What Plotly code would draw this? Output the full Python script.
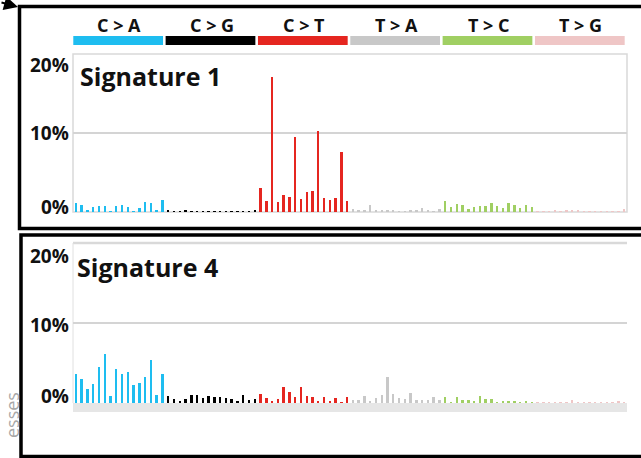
import plotly.graph_objects as go

# ---------------- data ----------------
substitutions = ["C>A", "C>G", "C>T", "T>A", "T>C", "T>G"]
header_labels = ["C > A", "C > G", "C > T", "T > A", "T > C", "T > G"]
group_colors = ["#1ebdf0", "#000000", "#e52620", "#c8c8c8", "#a0cf63", "#efc6c6"]
bases = ["A", "C", "G", "T"]
categories = [f"{f}[{s}]{t}" for s in substitutions for f in bases for t in bases]

sig1_CA = [1.1, 0.95, 0.2, 0.65, 0.7, 0.8, 0.1, 0.75, 0.85, 0.6, 0.1, 0.5, 1.25, 1.2, 0.25, 1.55]
sig1_CG = [0.15, 0.1, 0.05, 0.15, 0.1, 0.1, 0.05, 0.1, 0.05, 0.05, 0.1, 0.05, 0.1, 0.1, 0.1, 0.25]
sig1_CT = [3.0, 1.4, 17.1, 1.25, 2.1, 1.9, 9.5, 1.7, 2.5, 2.7, 10.25, 1.75, 1.5, 1.8, 7.6, 1.35]
sig1_TA = [0.38, 0.2, 0.3, 0.85, 0.15, 0.15, 0.15, 0.2, 0.05, 0.05, 0.15, 0.2, 0.55, 0.2, 0.1, 0.4]
sig1_TC = [1.45, 0.65, 1.05, 0.95, 0.4, 0.6, 0.75, 0.7, 1.2, 0.75, 0.55, 1.1, 0.9, 0.5, 0.9, 0.65]
sig1_TG = [0.1, 0.1, 0.1, 0.3, 0.05, 0.15, 0.15, 0.25, 0.05, 0.05, 0.1, 0.05, 0.1, 0.05, 0.1, 0.4]

sig4_CA = [3.6, 3.0, 1.8, 2.4, 4.55, 6.1, 0.85, 4.25, 3.65, 3.9, 2.2, 2.5, 3.25, 5.35, 1.0, 3.6]
sig4_CG = [0.9, 0.45, 0.3, 0.55, 0.95, 0.95, 0.6, 0.9, 0.7, 0.8, 0.6, 0.55, 0.3, 0.95, 0.4, 0.55]
sig4_CT = [1.1, 0.67, 0.2, 0.5, 2.05, 1.4, 0.7, 1.95, 0.85, 0.75, 0.2, 0.75, 0.3, 0.6, 0.1, 0.7]
sig4_TA = [0.4, 0.35, 0.9, 0.2, 0.67, 1.05, 3.3, 1.1, 0.62, 0.45, 1.25, 0.38, 0.38, 0.38, 0.75, 0.4]
sig4_TC = [0.75, 0.12, 0.7, 0.42, 0.42, 0.17, 0.88, 0.5, 0.5, 0.12, 0.3, 0.2, 0.2, 0.12, 0.25, 0.12]
sig4_TG = [0.02, 0.02, 0.08, 0.02, 0.02, 0.05, 0.38, 0.1, 0.02, 0.02, 0.08, 0.02, 0.02, 0.02, 0.2, 0.05]

sig1 = sig1_CA + sig1_CG + sig1_CT + sig1_TA + sig1_TC + sig1_TG
sig4 = sig4_CA + sig4_CG + sig4_CT + sig4_TA + sig4_TC + sig4_TG
y_ticks = [0, 10, 20]
y_tick_text = ["0%", "10%", "20%"]

# ---------------- layout helpers ----------------
W, H = 641, 458
def px(x):
    return x / W
def py(y):
    return 1 - y / H

bar_colors = [group_colors[i // 16] for i in range(96)]
FONT = "Open Sans"

fig = go.Figure()
fig.add_trace(go.Bar(x=categories, y=sig1, marker=dict(color=bar_colors, line=dict(width=0)),
                     width=0.42, xaxis="x", yaxis="y", showlegend=False))
fig.add_trace(go.Bar(x=categories, y=sig4, marker=dict(color=bar_colors, line=dict(width=0)),
                     width=0.42, xaxis="x2", yaxis="y2", showlegend=False))

xdom = [px(73), px(627)]
common_x = dict(domain=xdom, range=[-0.5, 95.5], type="category", categoryorder="array",
                categoryarray=categories, showticklabels=False, showgrid=False,
                zeroline=False, showline=False, ticks="")
common_y = dict(range=[0, 20], tickvals=[10], showticklabels=False, showgrid=True,
                gridcolor="#d4d4d4", gridwidth=1.5, zeroline=False, showline=False, ticks="")

shapes = []
annotations = []

# panel frames (light grey)
shapes.append(dict(type="rect", xref="x domain", yref="y domain", x0=0, x1=1, y0=0, y1=1,
                   line=dict(color="#d9d9d9", width=1.5), layer="below"))
shapes.append(dict(type="line", xref="x2 domain", yref="y2 domain", x0=0, x1=1, y0=1, y1=1,
                   line=dict(color="#d9d9d9", width=2.5), layer="below"))
shapes.append(dict(type="line", xref="x2 domain", yref="y2 domain", x0=0, x1=0, y0=0, y1=1,
                   line=dict(color="#e0e0e0", width=1), layer="below"))
# grey band under bottom panel baseline
shapes.append(dict(type="rect", xref="paper", yref="paper", x0=px(73), x1=px(627),
                   y0=py(412), y1=py(403), fillcolor="#e6e6e6", line=dict(width=0), layer="below"))

# header colour strips and labels
for g, (lab, col) in enumerate(zip(header_labels, group_colors)):
    shapes.append(dict(type="rect", xref="x", yref="paper", x0=g * 16 - 0.5 + 0.05, x1=g * 16 + 15.5 - 0.4,
                       y0=py(45), y1=py(36), fillcolor=col, line=dict(width=0)))
    annotations.append(dict(x=g * 16 + 7.5, xref="x", y=py(25), yref="paper", text=lab,
                            showarrow=False, xanchor="center", yanchor="middle",
                            font=dict(family=FONT, size=18, color="#111111", weight=700)))

# y labels
shifts1 = {0: 5, 10: 0, 20: -11}
shifts4 = {0: 7, 10: -2, 20: -13}
for v, t in zip(y_ticks, y_tick_text):
    annotations.append(dict(x=px(71), xref="paper", y=v, yref="y", yshift=shifts1[v], text=t,
                            showarrow=False, xanchor="right", yanchor="middle",
                            font=dict(family=FONT, size=19, color="#111111", weight=700)))
    annotations.append(dict(x=px(71), xref="paper", y=v, yref="y2", yshift=shifts4[v], text=t,
                            showarrow=False, xanchor="right", yanchor="middle",
                            font=dict(family=FONT, size=19, color="#111111", weight=700)))

# signature titles
annotations.append(dict(x=px(78), xref="paper", y=py(76), yref="paper", text="Signature 1",
                        showarrow=False, xanchor="left", yanchor="middle",
                        font=dict(family=FONT, size=25, color="#111111", weight=700)))
annotations.append(dict(x=px(75), xref="paper", y=py(267), yref="paper", text="Signature 4",
                        showarrow=False, xanchor="left", yanchor="middle",
                        font=dict(family=FONT, size=25, color="#111111", weight=700)))

# black outer borders
shapes.append(dict(type="rect", xref="paper", yref="paper", x0=px(19.5), x1=px(680),
                   y0=py(228.5), y1=py(6.5), line=dict(color="black", width=3.5)))
shapes.append(dict(type="rect", xref="paper", yref="paper", x0=px(21), x1=px(680),
                   y0=py(456.5), y1=py(235), line=dict(color="black", width=3.5)))

# arrow into corner
annotations.append(dict(x=px(18), y=py(7), xref="paper", yref="paper", ax=-24, ay=-5,
                        showarrow=True, arrowhead=2, arrowsize=1.4, arrowwidth=2,
                        arrowcolor="black", text=""))

# cropped side text
annotations.append(dict(x=px(12), y=py(415), xref="paper", yref="paper", text="esses",
                        textangle=-90, showarrow=False, xanchor="center", yanchor="middle",
                        font=dict(family=FONT, size=18, color="#a8a8a8")))

fig.update_layout(
    width=W, height=H, margin=dict(l=0, r=0, t=0, b=0),
    paper_bgcolor="white", plot_bgcolor="white",
    barmode="overlay", bargap=0,
    xaxis=dict(common_x, anchor="y"),
    yaxis=dict(common_y, domain=[py(212), py(54)], anchor="x"),
    xaxis2=dict(common_x, anchor="y2"),
    yaxis2=dict(common_y, domain=[py(403), py(243)], anchor="x2"),
    shapes=shapes, annotations=annotations,
)

fig.write_html("out.html")
